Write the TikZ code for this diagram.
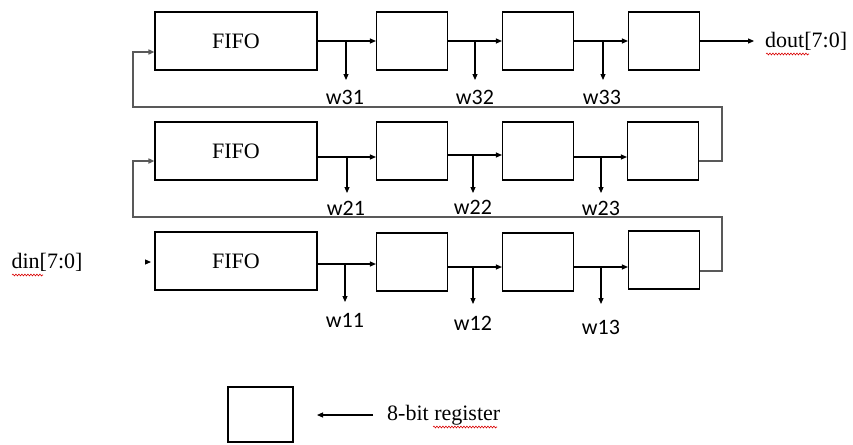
\documentclass[tikz,border=0pt]{standalone}
\usepackage{fontspec}
\setmainfont{Liberation Serif}
\newfontfamily\wfont{Carlito}
\usetikzlibrary{arrows.meta,decorations.pathmorphing}
\begin{document}
\begin{tikzpicture}[x=1pt,y=-1pt,
  box/.style={draw,line width=1.1pt,inner sep=0pt,minimum height=58pt},
  fifo/.style={box,minimum width=162pt,font=\fontsize{22}{26}\selectfont},
  reg/.style={box,minimum width=71pt},
  wire/.style={line width=1.1pt},
  arr/.style={wire,-{Triangle[length=6pt,width=5pt]}},
  fb/.style={line width=1.5pt,draw=black!65,-{Triangle[length=6pt,width=5pt]},shorten >=0pt},
  wlab/.style={font=\wfont\fontsize{22}{26}\selectfont,inner sep=0pt},
  txt/.style={font=\fontsize{22}{26}\selectfont,inner sep=0pt},
  squig/.style={draw=red!85!black,line width=0.6pt,decorate,decoration={snake,amplitude=0.9pt,segment length=3pt}}
]
\useasboundingbox (0,0) rectangle (853,444);

% ---------- row 3 (top) ----------
\node[fifo] (f3) at (236,41) {FIFO};
\node[reg] (r31) at (412,41) {};
\node[reg] (r32) at (538,41) {};
\node[reg] (r33) at (664,41) {};
\node[txt,anchor=west] (dout) at (765,41) {dout[7:0]};
\draw[arr] (f3.east) -- (r31.west);
\draw[arr] (r31.east) -- (r32.west);
\draw[arr] (r32.east) -- (r33.west);
\draw[arr] (r33.east) -- ++(54,0) coordinate (doutend);
\coordinate (b31) at (346,41); \coordinate (t31) at (346,80);
\coordinate (b32) at (475,41); \coordinate (t32) at (475,80);
\coordinate (b33) at (603,41); \coordinate (t33) at (603,80);
\draw[arr] (b31) -- (t31);
\draw[arr] (b32) -- (t32);
\draw[arr] (b33) -- (t33);
\node[wlab] (w31) at (345,97) {w31};
\node[wlab] (w32) at (475,97) {w32};
\node[wlab] (w33) at (602,97) {w33};

% ---------- row 2 ----------
\node[fifo] (f2) at (236,151) {FIFO};
\node[reg] (r21) at (412,151) {};
\node[reg] (r22) at (538,151) {};
\node[reg] (r23) at (663,151) {};
\draw[arr] ([yshift=-6pt]f2.east) -- ([yshift=-6pt]r21.west);
\draw[arr] ([yshift=-4pt]r21.east) -- ([yshift=-4pt]r22.west);
\draw[arr] ([yshift=-6pt]r22.east) -- ([yshift=-6pt]r23.west);
\coordinate (b21) at (347,157); \coordinate (t21) at (347,193);
\coordinate (b22) at (473,155); \coordinate (t22) at (473,193);
\coordinate (b23) at (601,157); \coordinate (t23) at (601,193);
\draw[arr] (b21) -- (t21);
\draw[arr] (b22) -- (t22);
\draw[arr] (b23) -- (t23);
\node[wlab] (w21) at (346,208) {w21};
\node[wlab] (w22) at (473,207) {w22};
\node[wlab] (w23) at (601,208) {w23};

% ---------- row 1 (bottom) ----------
\node[fifo] (f1) at (236,261) {FIFO};
\node[reg] (r11) at (412,262) {};
\node[reg] (r12) at (538,262) {};
\node[reg] (r13) at (664,260) {};
\node[txt] (din) at (47,262) {din[7:0]};
\coordinate (dinA) at (145,262);
\coordinate (dinB) at (151,262);
\draw[arr] (dinA) -- (dinB);
\draw[arr] ([yshift=-3pt]f1.east) -- ([yshift=-2pt]r11.west);
\draw[arr] ([yshift=-5pt]r11.east) -- ([yshift=-5pt]r12.west);
\draw[arr] ([yshift=-5pt]r12.east) -- ([yshift=-7pt]r13.west);
\coordinate (b11) at (345,263); \coordinate (t11) at (345,302);
\coordinate (b12) at (473,267); \coordinate (t12) at (473,304);
\coordinate (b13) at (601,267); \coordinate (t13) at (601,304);
\draw[arr] (b11) -- (t11);
\draw[arr] (b12) -- (t12);
\draw[arr] (b13) -- (t13);
\node[wlab] (w11) at (345,320) {w11};
\node[wlab] (w12) at (473,323) {w12};
\node[wlab] (w13) at (601,327) {w13};

% ---------- feedback loops ----------
\draw[fb] ([yshift=-10pt]r23.east) -| (722,107) -| (133,52) -- (f3.west |- 0,52);
\draw[fb] ([yshift=-11pt]r13.east) -| (722,217) -| (133,161) -- (f2.west |- 0,161);

% ---------- legend ----------
\node[reg,minimum width=65pt,minimum height=55pt] (leg) at (260.5,414.5) {};
\node[txt,anchor=west] (legtxt) at (387,415) {8-bit register};
\draw[arr] (legtxt.west) ++(-14,0) coordinate (la) -- (317,415);

% ---------- spell-check underlines ----------
\draw[squig] (12,275) -- (43,275);
\draw[squig] (766,54) -- (809,54);
\draw[squig] (433,427) -- (497,427);
\end{tikzpicture}
\end{document}
